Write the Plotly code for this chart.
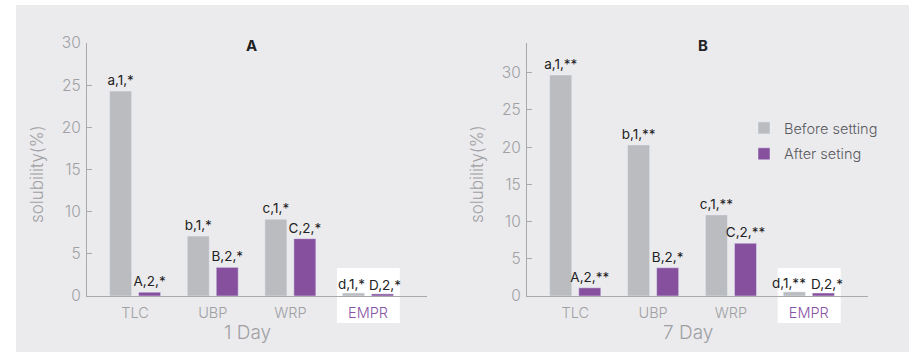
import plotly.graph_objects as go

# --- data -------------------------------------------------------------
categories = ["TLC", "UBP", "WRP", "EMPR"]

before_1day = [24.3, 7.1, 9.1, 0.35]
after_1day = [0.45, 3.4, 6.8, 0.25]
before_1day_labels = ["a,1,*", "b,1,*", "c,1,*", "d,1,*"]
after_1day_labels = ["A,2,*", "B,2,*", "C,2,*", "D,2,*"]

before_7day = [29.7, 20.3, 10.9, 0.55]
after_7day = [1.1, 3.8, 7.1, 0.4]
before_7day_labels = ["a,1,**", "b,1,**", "c,1,**", "d,1,**"]
after_7day_labels = ["A,2,**", "B,2,*", "C,2,**", "D,2,*"]

y_ticks = [0, 5, 10, 15, 20, 25, 30]

# --- style ------------------------------------------------------------
W, H = 915, 352
FONT = "Inter"
GRAY = "#bbbcbf"
PURPLE = "#87509f"
PANEL = "#ebebee"
AXIS = "#a9a9ab"
TICK_TXT = "#a0a0a3"
LABEL = "#222222"

tick_text = categories[:3] + ["<span style='color:#8a55a6'>EMPR</span>"]


def px_x(v):
    return v / W


def px_y(v):
    return 1 - v / H


fig = go.Figure()
annotations = []

panels = [
    ("x", "y", before_1day, after_1day, before_1day_labels, after_1day_labels, True, (-17, 17)),
    ("x2", "y2", before_7day, after_7day, before_7day_labels, after_7day_labels, False, (-20, 18)),
]
for xa, ya, bef, aft, bl, al, first, shifts in panels:
    # the two tiny EMPR bars get their labels as annotations, nudged apart
    fig.add_trace(go.Bar(
        x=categories, y=bef, name="Before setting", marker_color=GRAY,
        text=bl[:3] + [""], textposition="outside", cliponaxis=False,
        constraintext="none", textfont=dict(family=FONT, size=13.5, color=LABEL),
        xaxis=xa, yaxis=ya, showlegend=not first, legendgroup="b",
    ))
    fig.add_trace(go.Bar(
        x=categories, y=aft, name="After seting", marker_color=PURPLE,
        text=al[:3] + [""], textposition="outside", cliponaxis=False,
        constraintext="none", textfont=dict(family=FONT, size=13.5, color=LABEL),
        xaxis=xa, yaxis=ya, showlegend=not first, legendgroup="a",
    ))
    for vals, labs, dx in ((bef, bl, shifts[0]), (aft, al, shifts[1])):
        annotations.append(dict(
            x=categories[3], y=vals[3], xref=xa, yref=ya, text=labs[3],
            xshift=dx, yshift=-1, yanchor="bottom", xanchor="center", showarrow=False,
            font=dict(family=FONT, size=13.5, color=LABEL),
        ))

xcommon = dict(
    type="category", range=[-0.62, 3.76], showline=True, linecolor=AXIS, linewidth=1.3,
    ticks="", showgrid=False, zeroline=False, tickvals=categories, ticktext=tick_text,
    tickfont=dict(family=FONT, size=14.5, color=TICK_TXT, weight=300),
    ticklabelstandoff=3, fixedrange=True, automargin=False,
)
ycommon = dict(
    showline=True, linecolor=AXIS, linewidth=1.3, ticks="inside", ticklen=5,
    tickcolor=AXIS, tickwidth=1.3, showgrid=False, zeroline=False, tickvals=y_ticks,
    tickfont=dict(family=FONT, size=15.5, color=TICK_TXT, weight=300),
    ticklabelstandoff=2, fixedrange=True, automargin=False,
)
y_dom = [px_y(296), px_y(43)]

fig.update_layout(
    width=W, height=H,
    margin=dict(l=0, r=0, t=0, b=0, autoexpand=False),
    paper_bgcolor="white", plot_bgcolor="rgba(0,0,0,0)",
    barmode="group", bargap=0.254, bargroupgap=0.24,
    xaxis=dict(xcommon, domain=[px_x(87), px_x(427)]),
    xaxis2=dict(xcommon, domain=[px_x(527), px_x(868)]),
    yaxis=dict(ycommon, domain=y_dom, range=[0, 30], anchor="x"),
    yaxis2=dict(ycommon, domain=y_dom, range=[0, 34], anchor="x2"),
    legend=dict(
        x=px_x(744), y=px_y(112), xanchor="left", yanchor="top",
        bgcolor="rgba(0,0,0,0)",
        font=dict(family=FONT, size=14.5, color="#5a5a5e", weight=300),
        traceorder="grouped", itemwidth=30, tracegroupgap=4,
    ),
    font=dict(family=FONT),
)

# background panel and highlight box behind EMPR
shapes = [
    dict(type="rect", xref="paper", yref="paper", x0=px_x(16), x1=px_x(909),
         y0=0, y1=px_y(5), fillcolor=PANEL, line_width=0, layer="below"),
]
for xr in ("x", "x2"):
    shapes.append(dict(type="rect", xref=xr, yref="paper", x0=2.6, x1=3.41,
                       y0=px_y(323), y1=px_y(268), fillcolor="white",
                       line_width=0, layer="below"))
fig.update_layout(shapes=shapes)

text_notes = [
    dict(text="<b>A</b>", x=px_x(251), y=px_y(46), font=dict(size=15, color=LABEL)),
    dict(text="<b>B</b>", x=px_x(703), y=px_y(46), font=dict(size=15, color=LABEL)),
    dict(text="1 Day", x=px_x(248), y=px_y(332), font=dict(size=19, color=TICK_TXT, weight=300)),
    dict(text="7 Day", x=px_x(688), y=px_y(332), font=dict(size=19, color=TICK_TXT, weight=300)),
    dict(text="solubility(%)", x=px_x(37), y=px_y(174), textangle=-90,
         font=dict(size=17, color=TICK_TXT, weight=300)),
    dict(text="solubility(%)", x=px_x(477), y=px_y(174), textangle=-90,
         font=dict(size=17, color=TICK_TXT, weight=300)),
]
for a in text_notes:
    a.update(xref="paper", yref="paper", showarrow=False, xanchor="center",
             yanchor="middle")
    a["font"]["family"] = FONT
fig.update_layout(annotations=annotations + text_notes)

fig.write_html("out.html")
